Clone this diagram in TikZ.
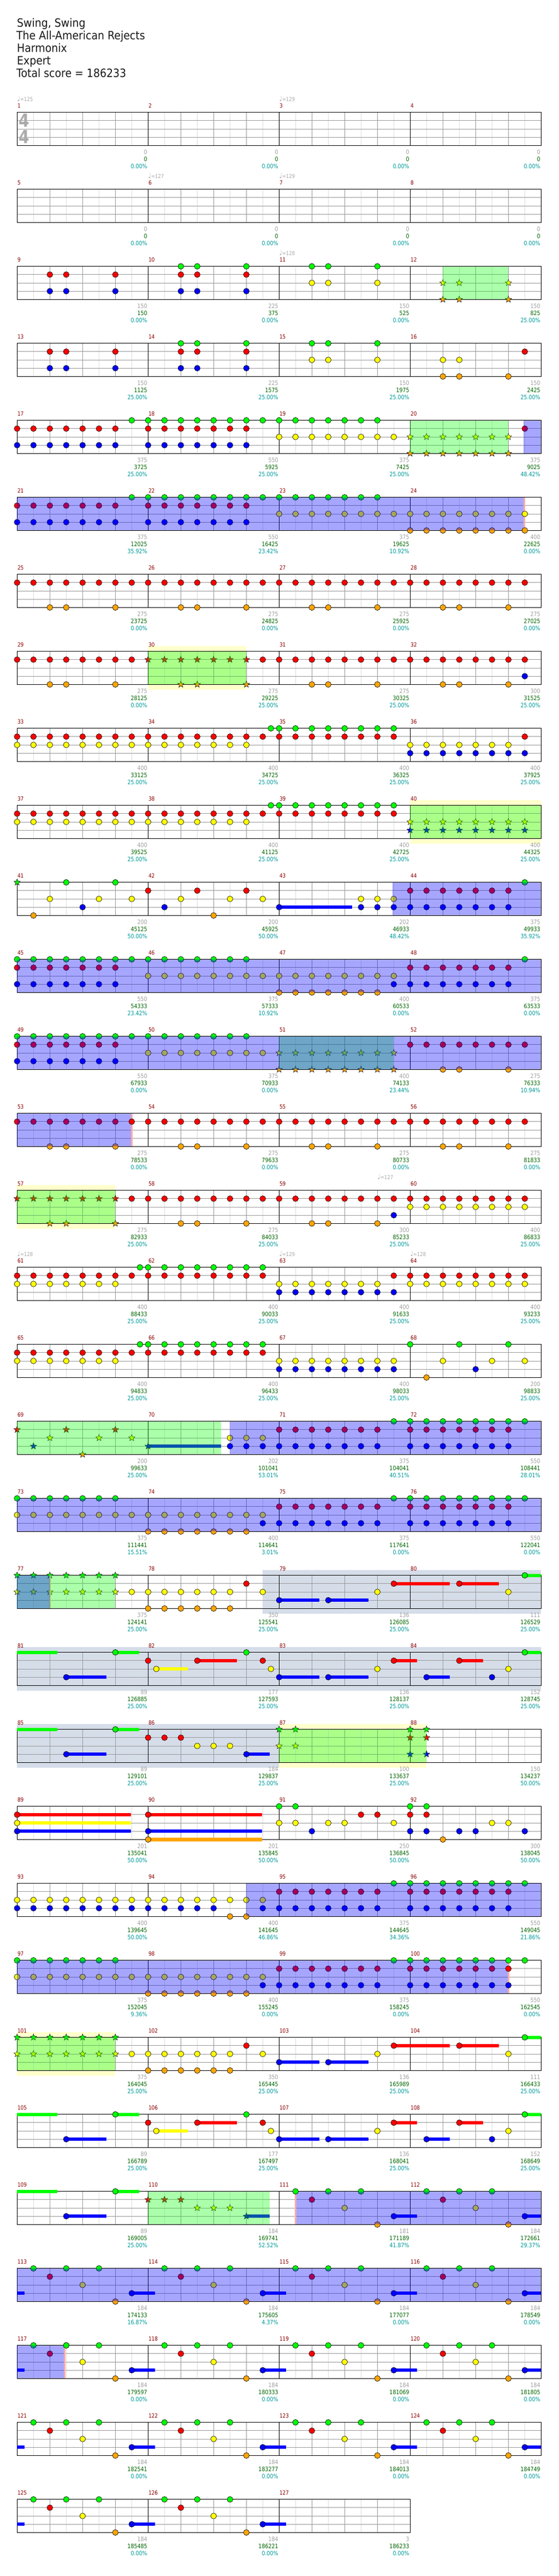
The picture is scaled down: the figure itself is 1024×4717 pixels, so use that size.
\documentclass[tikz,border=0pt]{standalone}
\usepackage{fontspec}
\setmainfont{DejaVu Sans}
\newfontfamily\nf[FakeStretch=0.86]{DejaVu Sans}
\newfontfamily\hf[FakeStretch=0.9]{DejaVu Sans}
\usetikzlibrary{shapes.geometric}
\definecolor{cG}{RGB}{0,255,0}
\definecolor{cR}{RGB}{255,0,0}
\definecolor{cY}{RGB}{255,255,0}
\definecolor{cB}{RGB}{0,0,255}
\definecolor{cO}{RGB}{255,165,0}
\definecolor{ybg}{RGB}{255,255,204}
\definecolor{gbg}{RGB}{213,221,233}
\definecolor{pk}{RGB}{255,170,170}
\definecolor{lgr}{RGB}{221,221,221}
\definecolor{mgr}{RGB}{153,153,153}
\definecolor{mnc}{RGB}{139,0,0}
\definecolor{labA}{RGB}{160,160,160}
\definecolor{labB}{RGB}{0,100,0}
\definecolor{labC}{RGB}{0,153,153}
\definecolor{tmpc}{RGB}{170,170,170}
\def\fS{15.15}
\def\stH{60.6}
\tikzset{
 lA/.style={anchor=base east,inner sep=0pt,text=labA,font=\nf\fontsize{11}{11}\selectfont},
 lB/.style={anchor=base east,inner sep=0pt,text=labB,font=\nf\fontsize{11}{11}\selectfont},
 lC/.style={anchor=base east,inner sep=0pt,text=labC,font=\nf\fontsize{11}{11}\selectfont},
 mn/.style={anchor=base west,inner sep=0pt,text=mnc,font=\nf\fontsize{10.5}{10.5}\selectfont},
 tp/.style={anchor=base west,inner sep=0pt,text=tmpc,font=\nf\fontsize{10}{10}\selectfont},
 hd/.style={anchor=base west,inner sep=0pt,text=black!90,font=\hf\fontsize{21}{23}\selectfont},
 tsig/.style={inner sep=0pt,text=tmpc,font=\bfseries\fontsize{33}{33}\selectfont,xscale=.85},
 starnote/.style={star,star points=5,star point ratio=2.4,minimum size=12.5pt,inner sep=0pt,draw=black,line width=.5pt}
}
\newcommand\Nt[3]{\foreach \i in {#3}{\fill[#2,draw=black,line width=.6pt] (30*\i,\fS*#1) circle (5.3pt);}}
\newcommand\Sn[3]{\foreach \i in {#3}{\node[starnote,fill=#2] at (30*\i,\fS*#1) {};}}
\newcommand\Sus[4]{\fill[#2] (30*#3,\fS*#1-3.2) rectangle (30*#4,\fS*#1+3.2);}
\newcommand\Act[2]{\fill[cB,opacity=.35] (30*#1,0) rectangle (30*#2,\stH);}
\newcommand\Phr[2]{\fill[cG,opacity=.33] (30*#1,0) rectangle (30*#2,\stH);}
\newcommand\Ybg[2]{\fill[ybg] (30*#1,-10) rectangle (30*#2,\stH+10);}
\newcommand\Gbg[2]{\fill[gbg] (30*#1,-10) rectangle (30*#2,\stH+10);}
\newcommand\Pnk[1]{\fill[pk] (30*#1-1.2,0) rectangle (30*#1+1.2,\stH);}
\newcommand\Lab[4]{\node[lA] at (240*#1+238.5,76.3) {#2};\node[lB] at (240*#1+238.5,89.6) {#3};\node[lC] at (240*#1+238.5,102.7) {#4\%};}
\newcommand\Heads[2]{\foreach \j in {1,...,#2}{\pgfmathtruncatemacro\mm{4*#1+\j}\node[mn] at (240*\j-239.5,-7.8) {\mm};}}
\newcommand\Tmp[2]{\node[tp] at (30*#1,-20.5) {{\fontsize{13}{13}\selectfont ♩}=#2};}
\newcommand\grid[1]{%
 \foreach \m in {1,...,#1}{%
  \foreach \j in {1,3,5,7}{\draw[lgr,line width=.8pt] ({240*(\m-1)+30*\j},0) -- ({240*(\m-1)+30*\j},\stH);}
  \foreach \j in {2,4,6}{\draw[mgr,line width=.8pt] ({240*(\m-1)+30*\j},0) -- ({240*(\m-1)+30*\j},\stH);}
 }%
 \foreach \h in {1,2,3}{\draw[mgr,line width=.9pt] (0,\fS*\h) -- (240*#1,\fS*\h);}
 \foreach \m in {1,...,#1}{\draw[black,line width=.7pt] (240*\m,0) -- (240*\m,\stH);}
 \draw[black,line width=1.3pt] (0,0) rectangle (240*#1,\stH);
}
\newcommand\PatSus{\Sus{3}{cB}{0}{0.44}\Sus{3}{cB}{7}{8.43}\Sus{3}{cB}{15}{16.43}\Sus{3}{cB}{23}{24.43}\Sus{3}{cB}{31}{32}}
\newcommand\PatNotes{\Nt{0}{cG}{1,3,5,9,11,13,17,19,21,25,27,29}\Nt{1}{cR}{2,10,18,26}\Nt{2}{cY}{4,12,20,28}\Nt{4}{cO}{6,14,22,30}\Nt{3}{cB}{7,15,23,31}}
\newcommand\SoloA{%
 \Sus{3}{cB}{16}{18.45}\Sus{3}{cB}{19}{21.45}\Sus{1}{cR}{23}{26.43}\Sus{1}{cR}{27}{29.43}\Sus{0}{cG}{31}{32}}
\newcommand\SoloB{%
 \Sus{0}{cG}{0}{2.46}\Sus{0}{cG}{6}{7.44}\Sus{3}{cB}{3}{5.44}\Sus{2}{cY}{8.5}{10.43}\Sus{1}{cR}{11}{13.43}
 \Sus{3}{cB}{16}{18.44}\Sus{3}{cB}{19}{21.44}\Sus{1}{cR}{23}{24.42}\Sus{3}{cB}{25}{26.43}\Sus{1}{cR}{27}{28.45}\Sus{0}{cG}{31}{32}
 \Nt{0}{cG}{6,14,31}\Nt{3}{cB}{3,16,19,25,29}\Nt{1}{cR}{8,11,15,23,27}\Nt{2}{cY}{8.5,15.5,22,30}}
\begin{document}
\begin{tikzpicture}[x=1pt,y=-1pt]
\useasboundingbox (0,0) rectangle (1024,4717);
\fill[white] (0,0) rectangle (1024,4717);
\node[hd] (t1) at (31,49.3) {Swing, Swing};
\node[hd] (t2) at (30,72.4) {The All-American Rejects};
\node[hd] (t3) at (31,95.5) {Harmonix};
\node[hd] (t4) at (31,118.6) {Expert};
\node[hd] (t5) at (30,141.7) {Total score = 186233};
% row 0
\begin{scope}[shift={(31.3,205.7)}]
\grid{4}
\node[tsig] (ts1) at (12.7,14.4) {4};\node[tsig] (ts2) at (12.7,44.4) {4};
\Heads{0}{4}
\Lab{0}{0}{0}{0.00}\Lab{1}{0}{0}{0.00}\Lab{2}{0}{0}{0.00}\Lab{3}{0}{0}{0.00}
\Tmp{0}{125}\Tmp{16}{129}
\end{scope}
% row 1
\begin{scope}[shift={(31.3,346.7)}]
\grid{4}\Heads{1}{4}
\Lab{0}{0}{0}{0.00}\Lab{1}{0}{0}{0.00}\Lab{2}{0}{0}{0.00}\Lab{3}{0}{0}{0.00}
\Tmp{8}{127}\Tmp{16}{129}
\end{scope}
% row 2
\begin{scope}[shift={(31.3,487.7)}]
\grid{4}
\Nt{1}{cR}{2,3,6,10,11,14}\Nt{3}{cB}{2,3,6,10,11,14}\Nt{0}{cG}{10,11,14,18,19,22}\Nt{2}{cY}{18,19,22}
\Sn{2}{cY}{26,27,30}\Sn{4}{cO}{26,27,30}
\Phr{26}{30}
\Heads{2}{4}
\Lab{0}{150}{150}{0.00}\Lab{1}{225}{375}{0.00}\Lab{2}{150}{525}{0.00}\Lab{3}{150}{825}{25.00}
\Tmp{16}{128}
\end{scope}
% row 3
\begin{scope}[shift={(31.3,628.7)}]
\grid{4}
\Nt{1}{cR}{2,3,6,10,11,14,31}\Nt{3}{cB}{2,3,6,10,11,14}\Nt{0}{cG}{10,11,14,18,19,22}\Nt{2}{cY}{18,19,22,26,27}\Nt{4}{cO}{26,27,30}
\Heads{3}{4}
\Lab{0}{150}{1125}{25.00}\Lab{1}{225}{1575}{25.00}\Lab{2}{150}{1975}{25.00}\Lab{3}{150}{2425}{25.00}
\end{scope}
% row 4
\begin{scope}[shift={(31.3,769.7)}]
\grid{4}
\Nt{1}{cR}{0,...,6}\Nt{1}{cR}{8,...,14}\Nt{1}{cR}{31}\Nt{3}{cB}{0,...,6}\Nt{3}{cB}{8,...,14}
\Nt{0}{cG}{7,...,22}\Nt{2}{cY}{16,...,23}\Sn{2}{cY}{24,...,30}\Sn{4}{cO}{24,...,30}
\Phr{24}{30}\Act{30.93}{32}
\Heads{4}{4}
\Lab{0}{375}{3725}{25.00}\Lab{1}{550}{5925}{25.00}\Lab{2}{375}{7425}{25.00}\Lab{3}{375}{9025}{48.42}
\end{scope}
% row 5
\begin{scope}[shift={(31.3,910.7)}]
\grid{4}
\Nt{1}{cR}{0,...,6}\Nt{1}{cR}{8,...,14}\Nt{3}{cB}{0,...,6}\Nt{3}{cB}{8,...,14}
\Nt{0}{cG}{7,...,22}\Nt{2}{cY}{16,...,30}\Nt{4}{cO}{24,...,30}
\Act{0}{30.93}\Pnk{30.97}
\Nt{2}{cY}{31}\Nt{4}{cO}{31}
\Heads{5}{4}
\Lab{0}{375}{12025}{35.92}\Lab{1}{550}{16425}{23.42}\Lab{2}{375}{19625}{10.92}\Lab{3}{400}{22625}{0.00}
\end{scope}
% row 6
\begin{scope}[shift={(31.3,1051.7)}]
\grid{4}
\Nt{1}{cR}{0,...,31}\Nt{4}{cO}{2,3,6,10,11,14,18,19,22,26,27,30}
\Heads{6}{4}
\Lab{0}{275}{23725}{0.00}\Lab{1}{275}{24825}{0.00}\Lab{2}{275}{25925}{0.00}\Lab{3}{275}{27025}{0.00}
\end{scope}
% row 7
\begin{scope}[shift={(31.3,1192.7)}]
\Ybg{8}{14}
\grid{4}
\Nt{1}{cR}{0,...,7}\Nt{1}{cR}{15,...,31}\Sn{1}{cR}{8,...,14}
\Nt{4}{cO}{2,3,6,18,19,22,26,27,30}\Sn{4}{cO}{10,11,14}\Nt{3}{cB}{31}
\Phr{8}{14}
\Heads{7}{4}
\Lab{0}{275}{28125}{0.00}\Lab{1}{275}{29225}{25.00}\Lab{2}{275}{30325}{25.00}\Lab{3}{300}{31525}{25.00}
\end{scope}
% row 8
\begin{scope}[shift={(31.3,1333.7)}]
\grid{4}
\Nt{1}{cR}{0,...,23}\Nt{1}{cR}{31}\Nt{2}{cY}{0,...,14}\Nt{2}{cY}{24,...,30}
\Nt{0}{cG}{15.5}\Nt{0}{cG}{16,...,23}\Nt{3}{cB}{24,...,31}
\Heads{8}{4}
\Lab{0}{400}{33125}{25.00}\Lab{1}{400}{34725}{25.00}\Lab{2}{400}{36325}{25.00}\Lab{3}{400}{37925}{25.00}
\end{scope}
% row 9
\begin{scope}[shift={(31.3,1474.7)}]
\Ybg{24}{32}
\grid{4}
\Nt{1}{cR}{0,...,23}\Nt{2}{cY}{0,...,14}\Nt{0}{cG}{15.5}\Nt{0}{cG}{16,...,23}
\Sn{2}{cY}{24,...,31}\Sn{3}{cB}{24,...,31}
\Phr{24}{32}
\Heads{9}{4}
\Lab{0}{400}{39525}{25.00}\Lab{1}{400}{41125}{25.00}\Lab{2}{400}{42725}{25.00}\Lab{3}{400}{44325}{25.00}
\end{scope}
% row 10
\begin{scope}[shift={(31.3,1615.7)}]
\grid{4}
\Sus{3}{cB}{16}{20.46}
\Sn{0}{cG}{0}\Nt{0}{cG}{3,6,31}\Nt{2}{cY}{2,5,7,10,13,15,21,22,23}
\Nt{3}{cB}{4,9,16,21,22,23}\Nt{3}{cB}{24,...,30}\Nt{4}{cO}{1,12}
\Nt{1}{cR}{8,11,14}\Nt{1}{cR}{24,...,30}
\Act{22.93}{32}
\Heads{10}{4}
\Lab{0}{200}{45125}{50.00}\Lab{1}{200}{45925}{50.00}\Lab{2}{202}{46933}{48.42}\Lab{3}{375}{49933}{35.92}
\end{scope}
% row 11
\begin{scope}[shift={(31.3,1756.7)}]
\grid{4}
\Nt{0}{cG}{0,...,14}\Nt{0}{cG}{31}\Nt{1}{cR}{0,...,6}\Nt{1}{cR}{24,...,30}
\Nt{3}{cB}{0,...,6}\Nt{3}{cB}{23,...,30}\Nt{2}{cY}{8,...,23}\Nt{4}{cO}{16,...,22}
\Act{0}{32}
\Heads{11}{4}
\Lab{0}{550}{54333}{23.42}\Lab{1}{375}{57333}{10.92}\Lab{2}{400}{60533}{0.00}\Lab{3}{375}{63533}{0.00}
\end{scope}
% row 12
\begin{scope}[shift={(31.3,1897.7)}]
\grid{4}
\Nt{0}{cG}{0,...,14}\Nt{1}{cR}{0,...,6}\Nt{1}{cR}{24,...,31}\Nt{3}{cB}{0,...,6}
\Nt{2}{cY}{8,...,15}\Sn{2}{cY}{16,...,23}\Sn{4}{cO}{16,...,23}\Nt{4}{cO}{26,27,30}
\Phr{16}{23}\Act{0}{32}
\Heads{12}{4}
\Lab{0}{550}{67933}{0.00}\Lab{1}{375}{70933}{0.00}\Lab{2}{400}{74133}{23.44}\Lab{3}{275}{76333}{10.94}
\end{scope}
% row 13
\begin{scope}[shift={(31.3,2038.7)}]
\grid{4}
\Nt{1}{cR}{0,...,6}\Nt{4}{cO}{2,3,6}
\Act{0}{7}\Pnk{7}
\Nt{1}{cR}{7,...,31}\Nt{4}{cO}{10,11,14,18,19,22,26,27,30}
\Heads{13}{4}
\Lab{0}{275}{78533}{0.00}\Lab{1}{275}{79633}{0.00}\Lab{2}{275}{80733}{0.00}\Lab{3}{275}{81833}{0.00}
\end{scope}
% row 14
\begin{scope}[shift={(31.3,2179.7)}]
\Ybg{0}{6}
\grid{4}
\Sn{1}{cR}{0,...,6}\Sn{4}{cO}{2,3,6}\Nt{1}{cR}{7,...,31}\Nt{4}{cO}{10,11,14,18,19,22}
\Nt{3}{cB}{23}\Nt{2}{cY}{24,...,31}
\Phr{0}{6}
\Heads{14}{4}
\Lab{0}{275}{82933}{25.00}\Lab{1}{275}{84033}{25.00}\Lab{2}{300}{85233}{25.00}\Lab{3}{400}{86833}{25.00}
\Tmp{22}{127}
\end{scope}
% row 15
\begin{scope}[shift={(31.3,2320.7)}]
\grid{4}
\Nt{1}{cR}{0,...,15}\Nt{1}{cR}{23,...,31}\Nt{2}{cY}{0,...,6}\Nt{2}{cY}{16,...,22}\Nt{2}{cY}{24,...,31}
\Nt{0}{cG}{7.5}\Nt{0}{cG}{8,...,15}\Nt{3}{cB}{16,...,23}
\Heads{15}{4}
\Lab{0}{400}{88433}{25.00}\Lab{1}{400}{90033}{25.00}\Lab{2}{400}{91633}{25.00}\Lab{3}{400}{93233}{25.00}
\Tmp{0}{128}\Tmp{16}{129}\Tmp{24}{128}
\end{scope}
% row 16
\begin{scope}[shift={(31.3,2461.7)}]
\grid{4}
\Nt{1}{cR}{0,...,15}\Nt{2}{cY}{0,...,6}\Nt{2}{cY}{16,...,23}\Nt{2}{cY}{26,29,31}
\Nt{0}{cG}{7.5}\Nt{0}{cG}{8,...,15}\Nt{0}{cG}{24,27,30}\Nt{3}{cB}{16,...,23}\Nt{3}{cB}{28}\Nt{4}{cO}{25}
\Heads{16}{4}
\Lab{0}{400}{94833}{25.00}\Lab{1}{400}{96433}{25.00}\Lab{2}{400}{98033}{25.00}\Lab{3}{200}{98833}{25.00}
\end{scope}
% row 17
\begin{scope}[shift={(31.3,2602.7)}]
\grid{4}
\Sus{3}{cB}{8}{12.45}
\Sn{1}{cR}{0,3,6}\Sn{2}{cY}{2,5,7}\Sn{3}{cB}{1,8}\Sn{4}{cO}{4}
\Phr{0}{12.45}
\Nt{2}{cY}{13,14,15}\Nt{3}{cB}{13,...,22}\Nt{3}{cB}{24,...,30}\Nt{1}{cR}{16,...,22}\Nt{1}{cR}{24,...,30}\Nt{0}{cG}{23,...,31}
\Act{13}{32}
\Heads{17}{4}
\Lab{0}{200}{99633}{25.00}\Lab{1}{202}{101041}{53.01}\Lab{2}{375}{104041}{40.51}\Lab{3}{550}{108441}{28.01}
\end{scope}
% row 18
\begin{scope}[shift={(31.3,2743.7)}]
\grid{4}
\Nt{0}{cG}{0,...,6}\Nt{0}{cG}{23,...,31}\Nt{2}{cY}{0,...,15}\Nt{3}{cB}{15,...,22}\Nt{3}{cB}{24,...,30}
\Nt{4}{cO}{8,...,14}\Nt{1}{cR}{16,...,22}\Nt{1}{cR}{24,...,30}
\Act{0}{32}
\Heads{18}{4}
\Lab{0}{375}{111441}{15.51}\Lab{1}{400}{114641}{3.01}\Lab{2}{375}{117641}{0.00}\Lab{3}{550}{122041}{0.00}
\end{scope}
% row 19
\begin{scope}[shift={(31.3,2884.7)}]
\Gbg{15}{32}
\grid{4}
\SoloA
\Sn{0}{cG}{0,...,6}\Sn{2}{cY}{0,...,6}\Nt{2}{cY}{7,...,13}\Nt{2}{cY}{15,22,30}\Nt{4}{cO}{8,...,13}
\Nt{1}{cR}{14,23,27}\Nt{3}{cB}{16,19}\Nt{0}{cG}{31}
\Pnk{2}\Phr{0}{6}\Act{0}{2}
\Heads{19}{4}
\Lab{0}{375}{124141}{25.00}\Lab{1}{350}{125541}{25.00}\Lab{2}{136}{126085}{25.00}\Lab{3}{111}{126529}{25.00}
\end{scope}
% row 20
\begin{scope}[shift={(31.3,3025.7)}]
\Gbg{0}{32}
\grid{4}
\SoloB
\Heads{20}{4}
\Lab{0}{89}{126885}{25.00}\Lab{1}{177}{127593}{25.00}\Lab{2}{136}{128137}{25.00}\Lab{3}{152}{128745}{25.00}
\end{scope}
% row 21
\begin{scope}[shift={(31.3,3166.7)}]
\Gbg{0}{16}\Ybg{16}{25}
\grid{4}
\Sus{0}{cG}{0}{2.46}\Sus{0}{cG}{6}{7.44}\Sus{3}{cB}{3}{5.44}\Sus{3}{cB}{14}{15.43}
\Nt{0}{cG}{6}\Nt{3}{cB}{3,14}\Nt{1}{cR}{8,9,10}\Nt{2}{cY}{11,12,13}
\Sn{0}{cG}{16,17,24,25}\Sn{2}{cY}{16,17}\Sn{1}{cR}{24,25}\Sn{3}{cB}{24,25}
\Phr{16}{25}
\Heads{21}{4}
\Lab{0}{89}{129101}{25.00}\Lab{1}{184}{129837}{25.00}\Lab{2}{100}{133637}{25.00}\Lab{3}{150}{134237}{50.00}
\end{scope}
% row 22
\begin{scope}[shift={(31.3,3307.7)}]
\grid{4}
\Sus{1}{cR}{0}{6.94}\Sus{2}{cY}{0}{6.94}\Sus{3}{cB}{0}{6.94}\Sus{1}{cR}{8}{14.95}\Sus{3}{cB}{8}{14.95}\Sus{4}{cO}{8}{14.95}
\Nt{1}{cR}{0,8,21,22,24,25}\Nt{2}{cY}{0,16,17,19,20,23,29,30}\Nt{3}{cB}{0,8,18,24,25,27,28,31}
\Nt{4}{cO}{8,26}\Nt{0}{cG}{16,17,24,25}
\Heads{22}{4}
\Lab{0}{201}{135041}{50.00}\Lab{1}{201}{135845}{50.00}\Lab{2}{250}{136845}{50.00}\Lab{3}{300}{138045}{50.00}
\end{scope}
% row 23
\begin{scope}[shift={(31.3,3448.7)}]
\grid{4}
\Nt{2}{cY}{0,...,15}\Nt{3}{cB}{0,...,12}\Nt{3}{cB}{15,...,22}\Nt{3}{cB}{24,...,30}\Nt{4}{cO}{13,14}
\Nt{1}{cR}{16,...,22}\Nt{1}{cR}{24,...,30}\Nt{0}{cG}{23,...,31}
\Act{14}{32}
\Heads{23}{4}
\Lab{0}{400}{139645}{50.00}\Lab{1}{400}{141645}{46.86}\Lab{2}{375}{144645}{34.36}\Lab{3}{550}{149045}{21.86}
\end{scope}
% row 24
\begin{scope}[shift={(31.3,3589.7)}]
\grid{4}
\Nt{0}{cG}{0,...,6}\Nt{0}{cG}{23,...,29}\Nt{2}{cY}{0,...,15}\Nt{4}{cO}{8,...,14}
\Nt{3}{cB}{15,...,22}\Nt{3}{cB}{24,...,29}\Nt{1}{cR}{16,...,22}\Nt{1}{cR}{24,...,29}
\Act{0}{30}\Pnk{30}
\Nt{0}{cG}{30,31}\Nt{1}{cR}{30}\Nt{3}{cB}{30}
\Heads{24}{4}
\Lab{0}{375}{152045}{9.36}\Lab{1}{400}{155245}{0.00}\Lab{2}{375}{158245}{0.00}\Lab{3}{550}{162545}{0.00}
\end{scope}
% row 25
\begin{scope}[shift={(31.3,3730.7)}]
\Ybg{0}{6}
\grid{4}
\SoloA
\Sn{0}{cG}{0,...,6}\Sn{2}{cY}{0,...,6}\Nt{2}{cY}{7,...,13}\Nt{2}{cY}{15,22,30}\Nt{4}{cO}{8,...,13}
\Nt{1}{cR}{14,23,27}\Nt{3}{cB}{16,19}\Nt{0}{cG}{31}
\Phr{0}{6}
\Heads{25}{4}
\Lab{0}{375}{164045}{25.00}\Lab{1}{350}{165445}{25.00}\Lab{2}{136}{165989}{25.00}\Lab{3}{111}{166433}{25.00}
\end{scope}
% row 26
\begin{scope}[shift={(31.3,3871.7)}]
\grid{4}
\SoloB
\Heads{26}{4}
\Lab{0}{89}{166789}{25.00}\Lab{1}{177}{167497}{25.00}\Lab{2}{136}{168041}{25.00}\Lab{3}{152}{168649}{25.00}
\end{scope}
% row 27
\begin{scope}[shift={(31.3,4012.7)}]
\grid{4}
\Sus{0}{cG}{0}{2.46}\Sus{0}{cG}{6}{7.44}\Sus{3}{cB}{3}{5.44}\Sus{3}{cB}{14}{15.43}\Sus{3}{cB}{23}{24.42}\Sus{3}{cB}{31}{32}
\Nt{0}{cG}{6}\Nt{3}{cB}{3}
\Sn{1}{cR}{8,9,10}\Sn{2}{cY}{11,12,13}\Sn{3}{cB}{14}
\Phr{8}{15.43}
\Nt{0}{cG}{19,21,25,27,29}\Nt{1}{cR}{18,26}\Nt{2}{cY}{20,28}\Nt{4}{cO}{22,30}\Nt{3}{cB}{23,31}
\Act{17}{32}\Pnk{17}
\Nt{0}{cG}{17}
\Heads{27}{4}
\Lab{0}{89}{169005}{25.00}\Lab{1}{184}{169741}{52.52}\Lab{2}{181}{171189}{41.87}\Lab{3}{184}{172661}{29.37}
\end{scope}
% row 28
\begin{scope}[shift={(31.3,4153.7)}]
\grid{4}
\PatSus\PatNotes
\Act{0}{32}
\Heads{28}{4}
\Lab{0}{184}{174133}{16.87}\Lab{1}{184}{175605}{4.37}\Lab{2}{184}{177077}{0.00}\Lab{3}{184}{178549}{0.00}
\end{scope}
% row 29
\begin{scope}[shift={(31.3,4294.7)}]
\grid{4}
\PatSus\PatNotes
\Act{0}{2.87}\Pnk{2.9}
\Nt{0}{cG}{3}
\Heads{29}{4}
\Lab{0}{184}{179597}{0.00}\Lab{1}{184}{180333}{0.00}\Lab{2}{184}{181069}{0.00}\Lab{3}{184}{181805}{0.00}
\end{scope}
% row 30
\begin{scope}[shift={(31.3,4435.7)}]
\grid{4}
\PatSus\PatNotes
\Heads{30}{4}
\Lab{0}{184}{182541}{0.00}\Lab{1}{184}{183277}{0.00}\Lab{2}{184}{184013}{0.00}\Lab{3}{184}{184749}{0.00}
\end{scope}
% row 31
\begin{scope}[shift={(31.3,4576.7)}]
\grid{3}
\Sus{3}{cB}{0}{0.44}\Sus{3}{cB}{7}{8.43}\Sus{3}{cB}{15}{16.43}
\Nt{0}{cG}{1,3,5,9,11,13}\Nt{1}{cR}{2,10}\Nt{2}{cY}{4,12}\Nt{4}{cO}{6,14}\Nt{3}{cB}{7,15}
\Heads{31}{3}
\Lab{0}{184}{185485}{0.00}\Lab{1}{184}{186221}{0.00}\Lab{2}{3}{186233}{0.00}
\end{scope}
\end{tikzpicture}
\end{document}
